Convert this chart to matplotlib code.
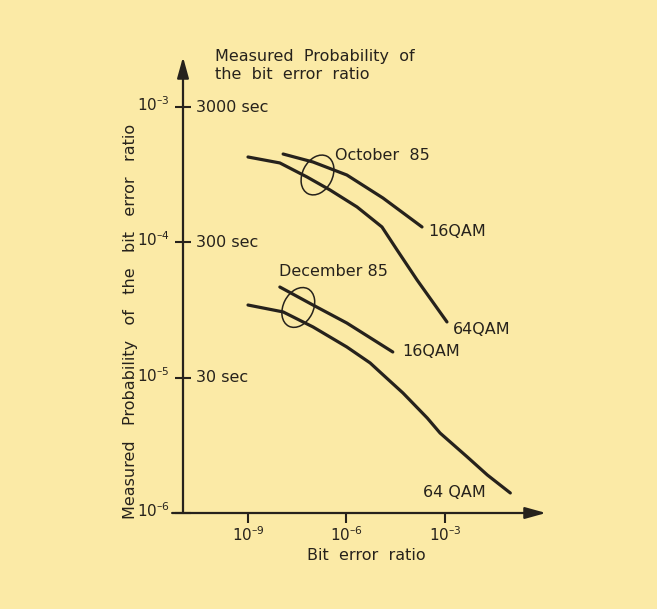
import numpy as np
import matplotlib
matplotlib.use("Agg")
import matplotlib.pyplot as plt
from matplotlib.patches import Ellipse
from matplotlib.transforms import ScaledTranslation

# ---- data (log10 values) ----
oct_16qam_ber_exp = [-7.93, -7.02, -5.99, -4.89, -3.70]
oct_16qam_prob_exp = [-3.347, -3.406, -3.502, -3.672, -3.886]

oct_64qam_ber_exp = [-9.0, -8.03, -7.20, -6.50, -5.68, -4.92, -4.46, -3.85, -2.94]
oct_64qam_prob_exp = [-3.369, -3.413, -3.517, -3.613, -3.738, -3.886, -4.056, -4.278, -4.588]

dec_16qam_ber_exp = [-8.03, -7.02, -5.99, -4.59]
dec_16qam_prob_exp = [-4.330, -4.463, -4.596, -4.810]

dec_64qam_ber_exp = [-9.0, -7.93, -7.02, -5.99, -5.28, -4.98, -4.28, -3.54, -3.15, -2.32, -1.71, -1.01]
dec_64qam_prob_exp = [-4.463, -4.514, -4.625, -4.773, -4.891, -4.958, -5.113, -5.298, -5.409, -5.586, -5.719, -5.852]

x_ticks = [1e-9, 1e-6, 1e-3]
x_tick_labels = ["$10^{\u2013 9}$", "$10^{\u2013 6}$", "$10^{\u2013 3}$"]
y_ticks = [1e-6, 1e-5, 1e-4, 1e-3]
y_tick_labels = ["$10^{\u2013 6}$", "$10^{\u2013 5}$", "$10^{\u2013 4}$", "$10^{\u2013 3}$"]
sec_values = [1e-5, 1e-4, 1e-3]
sec_labels = ["30 sec", "300 sec", "3000 sec"]

group_labels = ["October  85", "December 85"]
group_centers = [(10 ** -6.883, 10 ** -3.502), (10 ** -7.468, 10 ** -4.481)]

BG = "#fbeaa6"
INK = "#26221c"
FS = 11.5

plt.rcParams["font.family"] = ["DejaVu Sans"]
plt.rcParams["mathtext.fontset"] = "dejavusans"

fig = plt.figure(figsize=(6.57, 6.09), dpi=100, facecolor=BG)
ax = fig.add_axes([183 / 657, 1 - 513 / 609, 363 / 657, 456 / 609])
ax.set_facecolor(BG)
ax.set_xscale("log")
ax.set_yscale("log")
ax.set_xlim(10 ** -10.98, 10 ** 0.077)
ax.set_ylim(1e-6, 10 ** -2.630)

for s in ax.spines.values():
    s.set_visible(False)

lw = 2.3
ax.plot(10 ** np.array(oct_16qam_ber_exp), 10 ** np.array(oct_16qam_prob_exp), color=INK, lw=lw, solid_capstyle="round")
ax.plot(10 ** np.array(oct_64qam_ber_exp), 10 ** np.array(oct_64qam_prob_exp), color=INK, lw=lw, solid_capstyle="round")
ax.plot(10 ** np.array(dec_16qam_ber_exp), 10 ** np.array(dec_16qam_prob_exp), color=INK, lw=lw, solid_capstyle="round")
ax.plot(10 ** np.array(dec_64qam_ber_exp), 10 ** np.array(dec_64qam_prob_exp), color=INK, lw=lw, solid_capstyle="round")

# ellipses marking the groups
for (cx, cy) in group_centers:
    e = Ellipse((0, 0), width=0.42, height=0.30, angle=63, fill=False, ec=INK, lw=1.1,
                transform=fig.dpi_scale_trans + ScaledTranslation(cx, cy, ax.transData))
    ax.add_artist(e)

# axes arrows
arrow_kw = dict(arrowstyle="-|>,head_length=0.9,head_width=0.25", lw=1.6, color=INK,
                mutation_scale=14, shrinkA=0, shrinkB=0)
ax.annotate("", xy=(1.0, 0), xytext=(-0.03, 0), xycoords="axes fraction",
            textcoords="axes fraction", arrowprops=arrow_kw, annotation_clip=False)
ax.annotate("", xy=(0, 1.0), xytext=(0, 0), xycoords="axes fraction",
            textcoords="axes fraction", arrowprops=arrow_kw, annotation_clip=False)

ax.minorticks_off()
ax.set_xticks(x_ticks)
ax.set_xticklabels(x_tick_labels)
ax.set_yticks(y_ticks)
ax.set_yticklabels(y_tick_labels)
ax.tick_params(axis="x", direction="out", length=7, width=1.5, color=INK, labelsize=FS - 0.5,
               labelcolor=INK, pad=2)
ax.tick_params(axis="y", direction="inout", length=11, width=1.5, color=INK, labelsize=FS - 0.5,
               labelcolor=INK, pad=4)
for lab in ax.get_yticklabels():
    lab.set_transform(lab.get_transform() + ScaledTranslation(0, 4 / 100, fig.dpi_scale_trans))

# second set of labels on the inside of the y axis
for v, t in zip(sec_values, sec_labels):
    ax.text(0.036, v, t, transform=ax.get_yaxis_transform(), ha="left", va="center",
            fontsize=FS, color=INK)

# curve labels
ax.text(10 ** -6.35, 10 ** -3.361, group_labels[0], fontsize=FS, color=INK, ha="left", va="center")
ax.text(10 ** -8.047, 10 ** -4.217, group_labels[1], fontsize=FS, color=INK, ha="left", va="center")
ax.text(10 ** -3.508, 10 ** -3.921, "16QAM", fontsize=FS, color=INK, ha="left", va="center")
ax.text(10 ** -2.765, 10 ** -4.647, "64QAM", fontsize=FS, color=INK, ha="left", va="center")
ax.text(10 ** -4.288, 10 ** -4.808, "16QAM", fontsize=FS, color=INK, ha="left", va="center")
ax.text(10 ** -3.66, 10 ** -5.850, "64 QAM", fontsize=FS, color=INK, ha="left", va="center")

# titles / axis labels
ax.text(0.088, 0.982, "Measured  Probability  of\nthe  bit  error  ratio", transform=ax.transAxes,
        ha="left", va="center", fontsize=FS, color=INK, linespacing=1.25)
fig.text(130 / 657, 1 - 321 / 609, "Measured   Probability   of   the   bit   error   ratio",
         rotation=90, ha="center", va="center", fontsize=FS, color=INK)
fig.text(366 / 657, 1 - 555 / 609, "Bit  error  ratio", ha="center", va="center",
         fontsize=FS, color=INK)

fig.savefig("out.png", dpi=100, facecolor=BG)
